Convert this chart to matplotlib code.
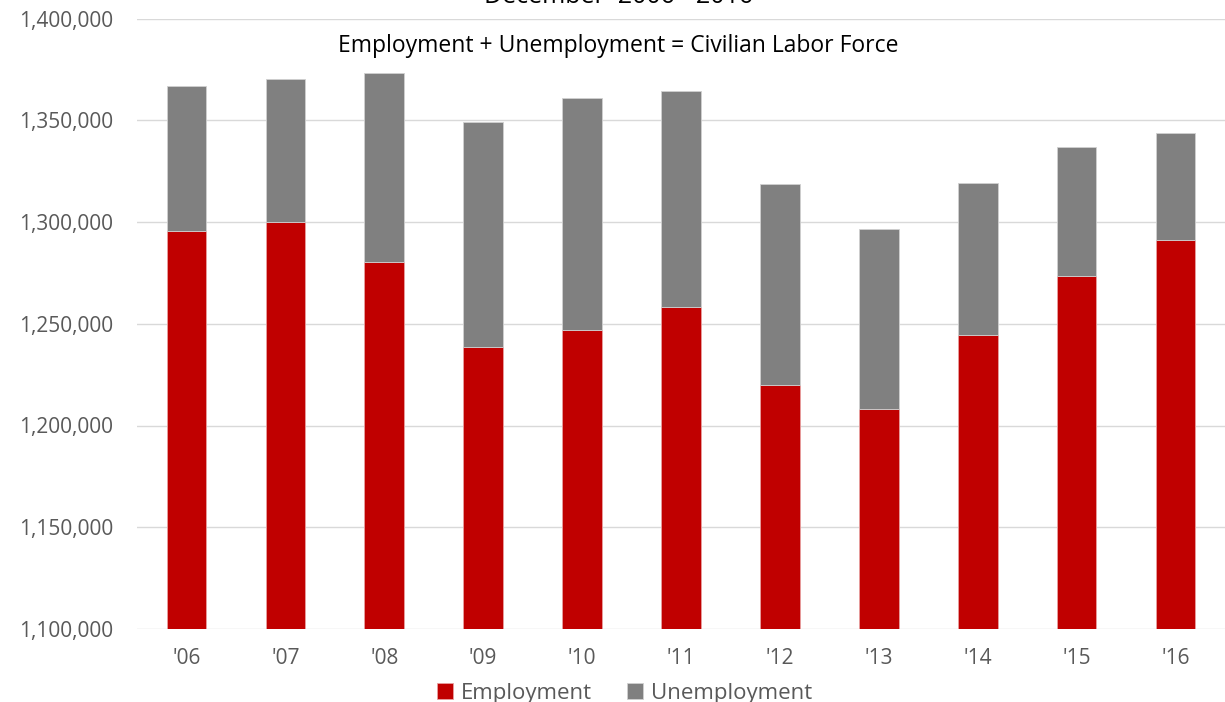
import matplotlib
matplotlib.use("Agg")
import matplotlib.pyplot as plt
import numpy as np
from matplotlib.ticker import FuncFormatter

# December values, 2006 - 2016
years = ["'06", "'07", "'08", "'09", "'10", "'11", "'12", "'13", "'14", "'15", "'16"]
employment = [1295400, 1299800, 1280100, 1238500, 1246900, 1258000,
              1220100, 1208200, 1244700, 1273500, 1291100]
labor_force = [1366800, 1370200, 1373200, 1349300, 1360700, 1364600,
               1318800, 1296700, 1319100, 1337100, 1343600]
unemployment = [lf - e for lf, e in zip(labor_force, employment)]

red = '#c00000'
gray = '#808080'
txt = '#595959'

plt.rcParams['font.family'] = ['Open Sans', 'DejaVu Sans']

fig = plt.figure(figsize=(12.25, 7.02), dpi=100)
ax = fig.add_axes([137 / 1225, 1 - 629 / 702, 1 - 137 / 1225, (629 - 18.5) / 702])

x = np.arange(len(years))
ax.bar(x, employment, width=0.4, color=red, edgecolor='#e8a0a0', linewidth=0.6,
       label='Employment', zorder=3)
ax.bar(x, unemployment, width=0.4, bottom=employment, color=gray,
       edgecolor='#d0d0d0', linewidth=0.6, label='Unemployment', zorder=3)

ax.set_ylim(1100000, 1400000)
ax.set_xlim(-0.5, len(years) - 0.5)
ax.set_yticks(np.arange(1100000, 1400001, 50000))
ax.yaxis.set_major_formatter(FuncFormatter(lambda v, p: f'{int(v):,}'))
ax.set_xticks(x)
ax.set_xticklabels(years)
ax.grid(axis='y', color='#d9d9d9', linewidth=1, zorder=0)
for s in ax.spines.values():
    s.set_visible(False)
ax.tick_params(axis='both', length=0, colors=txt, labelsize=15)
ax.tick_params(axis='y', pad=17)
ax.tick_params(axis='x', pad=14)

# title sits mostly above the canvas, as in the source image
fig.text(0.505, 1 - 3 / 702, 'December  2006 - 2016', ha='center', va='baseline',
         fontsize=18, color='black')
fig.text(0.505, 1 - 46 / 702, 'Employment + Unemployment = Civilian Labor Force',
         ha='center', va='center', fontsize=16.5, color='black')

fig.legend(loc='center', bbox_to_anchor=(0.51, 1 - 693 / 702), ncol=2, frameon=False,
           fontsize=16, labelcolor=txt, handlelength=0.7, handleheight=0.7,
           handletextpad=0.35, columnspacing=1.6)

fig.savefig('out.png', dpi=100)
